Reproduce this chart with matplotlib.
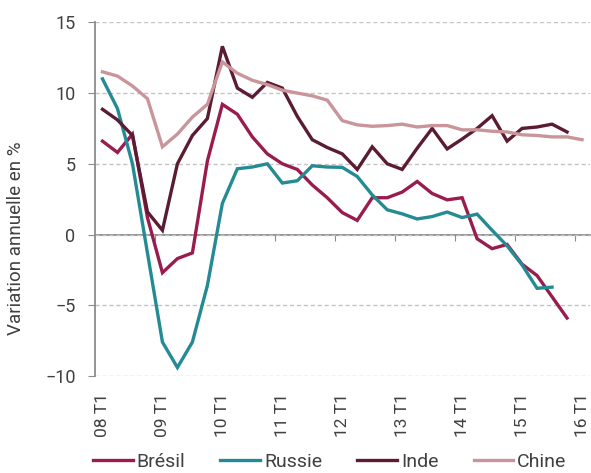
import numpy as np
import matplotlib
matplotlib.use("Agg")
import matplotlib.pyplot as plt

plt.rcParams["font.family"] = ["Roboto", "DejaVu Sans"]

# quarterly labels, 08 T1 .. 16 T1
quarters = [f"{y:02d} T{q}" for y in range(8, 17) for q in range(1, 5)][:33]
year_labels = ["08 T1", "09 T1", "10 T1", "11 T1", "12 T1", "13 T1", "14 T1", "15 T1", "16 T1"]

bresil = [6.6, 5.8, 7.1, 1.2, -2.7, -1.7, -1.3, 5.2, 9.2, 8.5, 6.9, 5.7, 5.0, 4.6,
          3.5, 2.6, 1.55, 1.0, 2.6, 2.6, 3.0, 3.75, 2.9, 2.45, 2.6, -0.3, -1.0,
          -0.7, -2.1, -2.9, -4.4, -5.9]
russie = [11.0, 8.9, 5.0, -1.3, -7.6, -9.4, -7.6, -3.6, 2.2, 4.65, 4.77, 5.0, 3.64,
          3.8, 4.86, 4.77, 4.75, 4.1, 2.8, 1.75, 1.46, 1.1, 1.27, 1.59, 1.2, 1.44,
          0.3, -0.8, -2.15, -3.8, -3.72]
inde = [8.85, 8.1, 7.0, 1.6, 0.3, 5.0, 7.0, 8.2, 13.3, 10.35, 9.7, 10.75, 10.35,
        8.35, 6.7, 6.15, 5.7, 4.6, 6.2, 5.0, 4.6, 6.1, 7.5, 6.05, 6.75, 7.5, 8.4,
        6.6, 7.5, 7.6, 7.8, 7.25]
chine = [11.5, 11.2, 10.5, 9.6, 6.2, 7.1, 8.3, 9.2, 12.2, 11.4, 10.9, 10.6, 10.2,
         10.0, 9.8, 9.5, 8.05, 7.75, 7.65, 7.7, 7.8, 7.6, 7.7, 7.7, 7.4, 7.4, 7.3,
         7.25, 7.05, 7.0, 6.9, 6.9, 6.7]

series = [("Brésil", bresil, "#991C4F"),
          ("Russie", russie, "#248B94"),
          ("Inde", inde, "#5B1C33"),
          ("Chine", chine, "#C9959A")]

fig = plt.figure(figsize=(5.91, 4.73), dpi=100)
ax = fig.add_axes([95 / 591, 1 - 376 / 473, 494.5 / 591, (376 - 22.3) / 473])

for name, vals, col in series:
    ax.plot(np.arange(len(vals)), vals, color=col, lw=2.4, label=name,
            solid_joinstyle="miter")

ax.set_xlim(-0.5, len(quarters) - 0.5)
ax.set_ylim(-10, 15)
ax.set_yticks([-10, -5, 0, 5, 10, 15])
ax.yaxis.grid(True, ls=(0, (3, 2)), color="#C4C4C4", lw=1)
ax.set_axisbelow(True)

for s in ("top", "right", "bottom"):
    ax.spines[s].set_visible(False)
ax.spines["left"].set_color("#8C8C8C")
ax.spines["left"].set_linewidth(1.3)
ax.tick_params(axis="y", direction="out", length=5, color="#8C8C8C",
               labelsize=13, labelcolor="#404040", pad=9)

# labels at the bottom, one per year
ax.set_xticks([quarters.index(l) for l in year_labels], year_labels,
              rotation=90, fontsize=12.5, color="#404040")
ax.tick_params(axis="x", length=0, pad=12)

# zero line with small ticks between years
zero = ax.secondary_xaxis(10 / 25)
zero.spines["bottom"].set_color("#8C8C8C")
zero.spines["bottom"].set_linewidth(1.3)
zero.set_xticks(np.arange(3.5, len(quarters) - 1, 4))
zero.tick_params(axis="x", direction="out", length=4, color="#8C8C8C",
                 labelbottom=False)

ax.set_ylabel("Variation annuelle en %", fontsize=13.5, color="#404040")
ax.yaxis.set_label_coords(-0.142, 0.39)

fig.legend(loc="center", bbox_to_anchor=(0.558, 0.024), ncol=4, frameon=False,
           fontsize=14, handlelength=2.05, handletextpad=0.2, columnspacing=1.8,
           labelcolor="#404040")

fig.savefig("out.png", dpi=100)
